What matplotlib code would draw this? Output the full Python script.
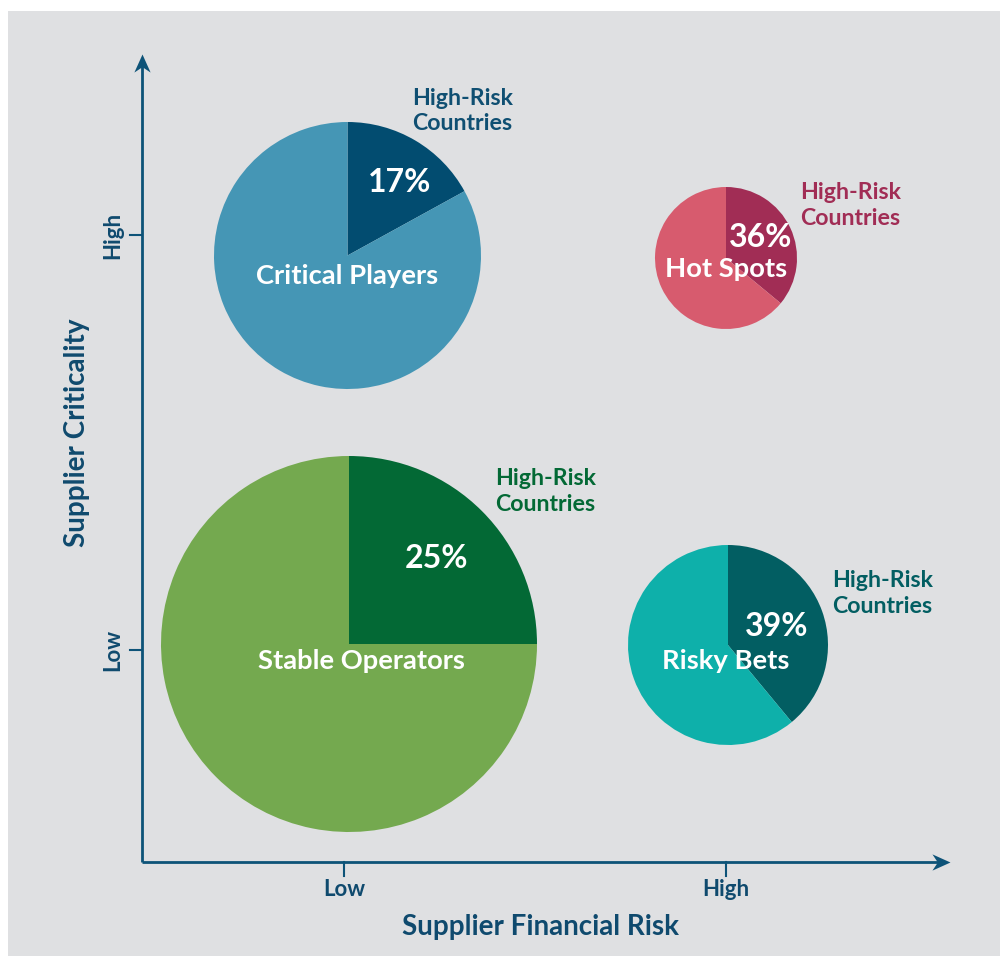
import numpy as np
import matplotlib
matplotlib.use('Agg')
import matplotlib.pyplot as plt
from matplotlib.path import Path
from matplotlib.patches import Rectangle

plt.rcParams['font.family'] = ['Lato', 'DejaVu Sans']

# segments: name, high-risk share (%), position (financial risk, criticality), bubble radius
names = ['Critical Players', 'Hot Spots', 'Stable Operators', 'Risky Bets']
shares = [17, 36, 25, 39]
x_pos = [2.055, 5.84, 2.07, 5.86]
y_pos = [6.065, 6.04, 2.18, 2.17]
radius = [1.335, 0.71, 1.88, 1.0]

x_ticks = [2.02, 5.84]
y_ticks = [2.12, 6.27]
tick_labels = ['Low', 'High']

light = ['#4596b5', '#d75b6e', '#74a94f', '#0eb0aa']
dark = ['#024c70', '#a12d55', '#036935', '#025e62']
hrc_col = ['#0f4f72', '#a12d55', '#036935', '#025e62']

# label offsets from bubble centre (percent, name, high-risk note)
pct_off = [(0.525, 0.725), (0.35, 0.20), (0.88, 0.86), (0.49, 0.18)]
name_off = [(0.0, -0.205), (0.0, -0.11), (0.12, -0.17), (-0.02, -0.16)]
note_off = [(0.645, 1.445), (0.74, 0.525), (1.46, 1.525), (1.04, 0.515)]

axis_col = '#0d5378'
text_col = '#0f4a6e'

fig = plt.figure(figsize=(10, 9.56), dpi=100)
fig.patches.append(Rectangle((0.008, 0), 0.992, 945 / 956, transform=fig.transFigure,
                             facecolor='#dfe0e2', edgecolor='none', zorder=-10))
ax = fig.add_axes([0, 0, 1, 1])
ax.patch.set_alpha(0)

for i in range(4):
    ax.pie([shares[i], 100 - shares[i]], colors=[dark[i], light[i]],
           center=(x_pos[i], y_pos[i]), radius=radius[i], startangle=90,
           counterclock=False, wedgeprops=dict(linewidth=0))
    ax.text(x_pos[i] + pct_off[i][0], y_pos[i] + pct_off[i][1], '%d%%' % shares[i],
            color='white', fontsize=23, fontweight='bold', ha='center', va='center')
    ax.text(x_pos[i] + name_off[i][0], y_pos[i] + name_off[i][1], names[i],
            color='white', fontsize=19.7, fontweight='bold', ha='center', va='center')
    ax.text(x_pos[i] + note_off[i][0], y_pos[i] + note_off[i][1], 'High-Risk\nCountries',
            color=hrc_col[i], fontsize=16.7, fontweight='bold', ha='left', va='center',
            linespacing=1.25)

# axes with arrows
ax_len = 8.08
ax.plot([0, ax_len - 0.1], [0, 0], color=axis_col, lw=2, solid_capstyle='butt')
ax.plot([0, 0], [0, ax_len - 0.1], color=axis_col, lw=2, solid_capstyle='butt')
head = Path([(0, 0), (-1, 0.45), (-0.7, 0), (-1, -0.45), (0, 0)],
            [Path.MOVETO, Path.LINETO, Path.LINETO, Path.LINETO, Path.CLOSEPOLY])
ax.plot([ax_len], [0], marker=head, markersize=26, color=axis_col, markeredgewidth=0)
head_up = head.transformed(matplotlib.transforms.Affine2D().rotate_deg(90))
ax.plot([0], [ax_len], marker=head_up, markersize=26, color=axis_col, markeredgewidth=0)

for t, lab in zip(x_ticks, tick_labels):
    ax.plot([t, t], [0, -0.14], color=axis_col, lw=1.5)
    ax.text(t, -0.27, lab, color=text_col, fontsize=16, fontweight='bold',
            ha='center', va='center')
for t, lab in zip(y_ticks, tick_labels):
    ax.plot([0, -0.12], [t, t], color=axis_col, lw=1.5)
    ax.text(-0.29, t, lab, color=text_col, fontsize=16, fontweight='bold',
            ha='center', va='center', rotation=90)

ax.text(3.99, -0.65, 'Supplier Financial Risk', color=text_col, fontsize=20,
        fontweight='bold', ha='center', va='center')
ax.text(-0.65, 4.29, 'Supplier Criticality', color=text_col, fontsize=20,
        fontweight='bold', ha='center', va='center', rotation=90)

ax.set_xlim(-1.42, 8.58)
ax.set_ylim(-0.94, 8.62)
ax.set_aspect('auto')
ax.axis('off')

plt.savefig('out.png', dpi=100, facecolor='white')
